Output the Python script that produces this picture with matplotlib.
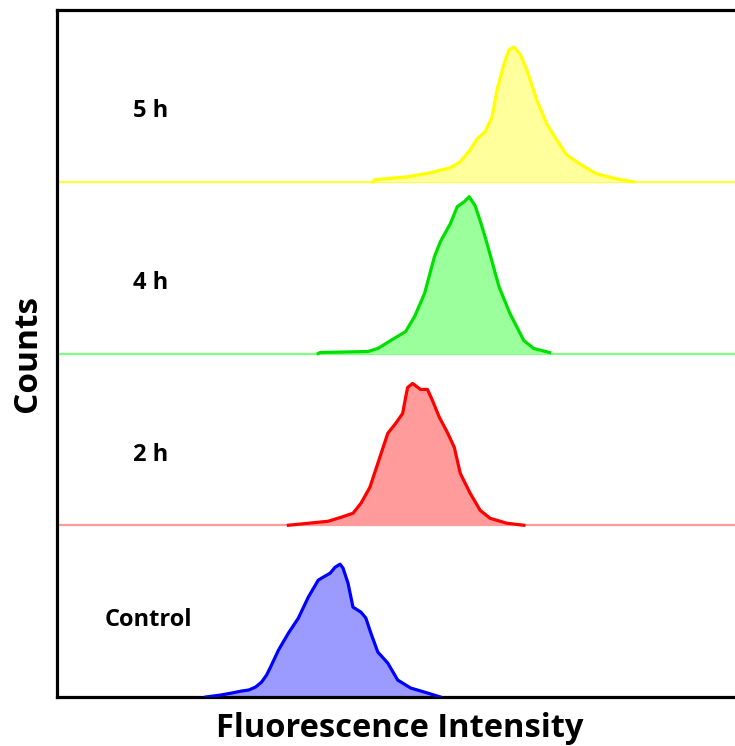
#! /usr/bin/env python3

# Stacked flow cytometry histograms: fluorescence intensity over time

import numpy as np
import matplotlib.pyplot as plt

plt.rcParams['font.family'] = ['Open Sans', 'DejaVu Sans']

labels = ['Control', '2 h', '4 h', '5 h']

# intensity (arbitrary units) and counts
ctrl_x = [150, 165, 176, 186, 193, 200, 206, 211, 215, 223, 233, 243, 253, 263,
          268, 275, 280, 285, 288, 293, 298, 306, 311, 316, 323, 333, 343, 356,
          373, 386]
ctrl_y = [0, 2, 4, 6, 7, 10, 15, 22, 30, 47, 64, 79, 100, 117,
          120, 124, 130, 133, 129, 114, 90, 85, 79, 64, 45, 34, 17, 9,
          4, 0]

h2_x = [233, 253, 273, 286, 298, 306, 315, 323, 333, 341, 348, 351, 353, 358,
        366, 373, 378, 385, 393, 400, 406, 416, 426, 436, 453, 470]
h2_y = [0, 2, 4, 8, 12, 22, 38, 62, 92, 102, 112, 128, 138, 142,
        136, 136, 125, 108, 93, 78, 52, 32, 15, 7, 2, 0]

h4_x = [263, 265, 313, 323, 336, 351, 360, 370, 380, 386, 396, 403, 410, 415,
        421, 427, 433, 445, 456, 470, 480, 496]
h4_y = [0, 1, 2, 5, 13, 22, 37, 60, 97, 112, 130, 147, 152, 157,
        148, 130, 110, 67, 40, 13, 5, 1]

h5_x = [318, 320, 353, 376, 396, 406, 416, 423, 431, 438, 443, 450, 455, 460,
        466, 473, 483, 493, 503, 513, 526, 543, 563, 580]
h5_y = [0, 2, 5, 9, 14, 20, 32, 43, 50, 65, 92, 118, 132, 135,
        128, 112, 82, 58, 42, 27, 18, 8, 3, 0]

xs = [ctrl_x, h2_x, h4_x, h5_x]
ys = [ctrl_y, h2_y, h4_y, h5_y]
line_colors = ['#0000ff', '#ff0000', '#00e000', '#ffff00']
fill_colors = ['#9b9bff', '#ff9b9b', '#9bff9b', '#ffff9b']
base_colors = ['#0000ff', '#ff9b9b', '#7fff7f', '#ffff40']

step = 172
fig = plt.figure(figsize=(7.35, 7.46), dpi=100)
ax = fig.add_axes([57 / 735, 49 / 746, 1 - 57 / 735 + 0.01, 687 / 746])

for i in range(4):
    x = np.array(xs[i])
    y = np.array(ys[i]) + i * step
    off = i * step
    if i > 0:
        ax.axhline(off, color=base_colors[i], lw=1.6, zorder=1)
    ax.fill_between(x, off, y, color=fill_colors[i], lw=0, zorder=2)
    ax.plot(x, y, color=line_colors[i], lw=2.3, zorder=3,
            solid_joinstyle='round')

# panel labels
ax.text(48, 0.45 * step, labels[0], fontsize=17, fontweight='bold', va='center')
for i in range(1, 4):
    ax.text(77, i * step + 0.41 * step, labels[i], fontsize=17,
            fontweight='bold', va='center')

ax.set_xlim(0, 690)
ax.set_ylim(0, 4 * step)
ax.set_xticks([])
ax.set_yticks([])
for s in ['left', 'bottom', 'top']:
    ax.spines[s].set_linewidth(2.3)
ax.spines['right'].set_visible(False)

ax.set_xlabel('Fluorescence Intensity', fontsize=23.5, fontweight='bold', labelpad=11)
ax.set_ylabel('Counts', fontsize=24, fontweight='bold', labelpad=9)

fig.savefig('out.png', dpi=100)
